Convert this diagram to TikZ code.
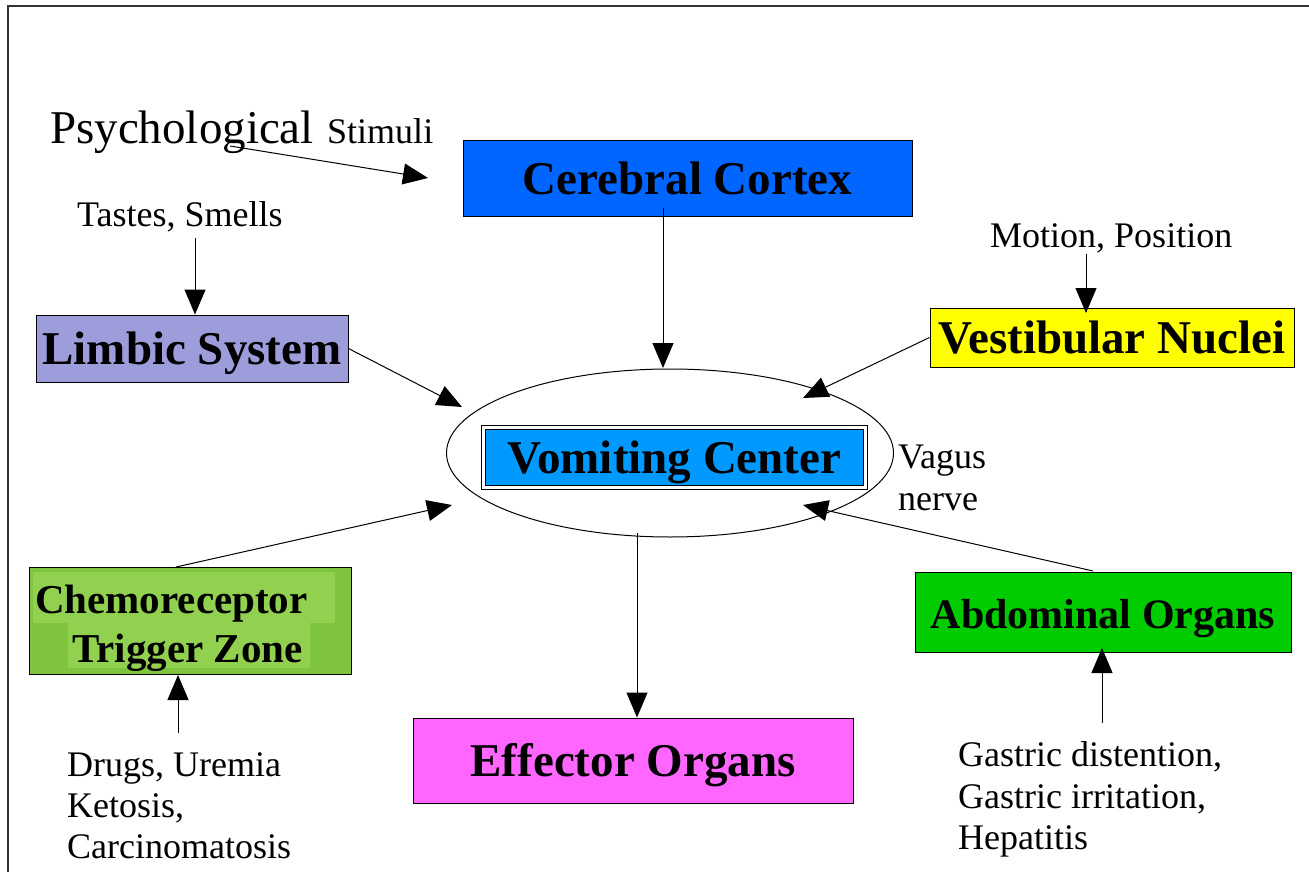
\documentclass[tikz,border=0pt]{standalone}
\usepackage{fontspec}
\setmainfont{Liberation Serif}
\usetikzlibrary{arrows.meta,shapes.geometric}
\definecolor{cortexblue}{RGB}{0,102,255}
\definecolor{limbicviolet}{RGB}{157,157,220}
\definecolor{vestyellow}{RGB}{255,255,0}
\definecolor{vomitblue}{RGB}{0,153,255}
\definecolor{effmagenta}{RGB}{255,102,255}
\definecolor{abdgreen}{RGB}{0,204,0}
\definecolor{ctzgreen}{RGB}{126,196,60}
\definecolor{ctzlight}{RGB}{146,208,80}
\begin{document}
\begin{tikzpicture}[x=1pt,y=-1pt,
  box/.style={draw, line width=1pt, inner sep=0pt, text height=32pt, text depth=0pt,
    font=\fontsize{47}{49}\selectfont\bfseries},
  ctzline/.style={anchor=base west, inner sep=0pt, font=\fontsize{41}{45}\selectfont\bfseries},
  lbl/.style={anchor=base west, inner sep=0pt, font=\fontsize{36}{41}\selectfont},
  arr/.style={-{Triangle[length=25pt,width=21pt]}, line width=1pt}]
  \useasboundingbox (0,0) rectangle (1309,872);
  \draw[line width=2pt, black!80] (8,872) -- (8,6) -- (1309,6);

  \node[box, fill=cortexblue, minimum width=449pt, minimum height=75pt] (cortex) at (687.5,178.5) {Cerebral Cortex};
  \node[box, fill=limbicviolet, minimum width=312pt, minimum height=67pt] (limbic) at (192,348.5) {Limbic System};
  \node[box, fill=vestyellow, minimum width=364pt, minimum height=59pt] (vestib) at (1112,337.5) {Vestibular Nuclei};
  \node[draw, ellipse, line width=1pt, inner sep=0pt, minimum width=447pt, minimum height=168pt] (vc) at (670,453) {};
  \node[box, fill=vomitblue, double=white, double distance=3pt, minimum width=382pt, minimum height=60pt] (vcbox) at (674.5,457.5) {Vomiting Center};
  \node[box, fill=effmagenta, minimum width=440pt, minimum height=85pt] (effector) at (633,760.5) {Effector Organs};
  \node[box, fill=abdgreen, minimum width=376pt, minimum height=80pt, font=\fontsize{42}{45}\selectfont\bfseries] (abdomen) at (1103,612) {Abdominal Organs};

  \node[box, fill=ctzgreen, minimum width=322pt, minimum height=107pt] (ctz) at (190,620.5) {};
  \fill[ctzlight] (33,572) rectangle (335,623);
  \fill[ctzlight] (68,623) rectangle (310,668);
  \node[ctzline] (ctza) at (35,613) {Chemoreceptor};
  \node[ctzline] (ctzb) at (72,662) {Trigger Zone};

  \node[lbl, font=\fontsize{47}{50}\selectfont] (psych) at (50,143) {Psychological};
  \node[lbl] (stimuli) at (327,143) {Stimuli};
  \node[lbl] (tastes) at (77,226) {Tastes, Smells};
  \node[lbl] (motion) at (990,247) {Motion, Position};
  \node[lbl] (vagus) at (898,468) {Vagus};
  \node[lbl] (nerve) at (898,510) {nerve};
  \node[lbl] (drugsa) at (67,776) {Drugs, Uremia};
  \node[lbl] (drugsb) at (67,817) {Ketosis,};
  \node[lbl] (drugsc) at (67,858) {Carcinomatosis};
  \node[lbl] (gastrica) at (958,766) {Gastric distention,};
  \node[lbl] (gastricb) at (958,808) {Gastric irritation,};
  \node[lbl] (gastricc) at (958,849) {Hepatitis};

  \coordinate (psychtail) at (230,146);
  \coordinate (psychtip) at (428,178);
  \coordinate (tastestail) at (195,238);
  \coordinate (cortextail) at (663,208);
  \coordinate (cortextip) at (663,368);
  \coordinate (limbictip) at (462,407);
  \coordinate (vestibtip) at (803,398);
  \coordinate (motiontail) at (1086,254);
  \coordinate (motiontip) at (1086,313);
  \coordinate (ctztail) at (176,567);
  \coordinate (ctztip) at (452,505);
  \coordinate (drugstail) at (178,733);
  \coordinate (drugstip) at (178,675);
  \coordinate (abdtail) at (1093,571);
  \coordinate (vagustip) at (803,505);
  \coordinate (gastrictail) at (1102,723);
  \coordinate (gastrictip) at (1102,648);
  \coordinate (vctail) at (637,533);

  \draw[arr] (psychtail) -- (psychtip);
  \draw[arr] (tastestail) -- (tastestail |- limbic.north);
  \draw[arr] (cortextail) -- (cortextip);
  \draw[arr] (limbic.east) -- (limbictip);
  \draw[arr] (vestib.west) -- (vestibtip);
  \draw[arr] (motiontail) -- (motiontip);
  \draw[arr] (ctztail) -- (ctztip);
  \draw[arr] (drugstail) -- (drugstip);
  \draw[arr] (abdtail) -- (vagustip);
  \draw[arr] (gastrictail) -- (gastrictip);
  \draw[arr] (vctail) -- (vctail |- effector.north);
\end{tikzpicture}
\end{document}
